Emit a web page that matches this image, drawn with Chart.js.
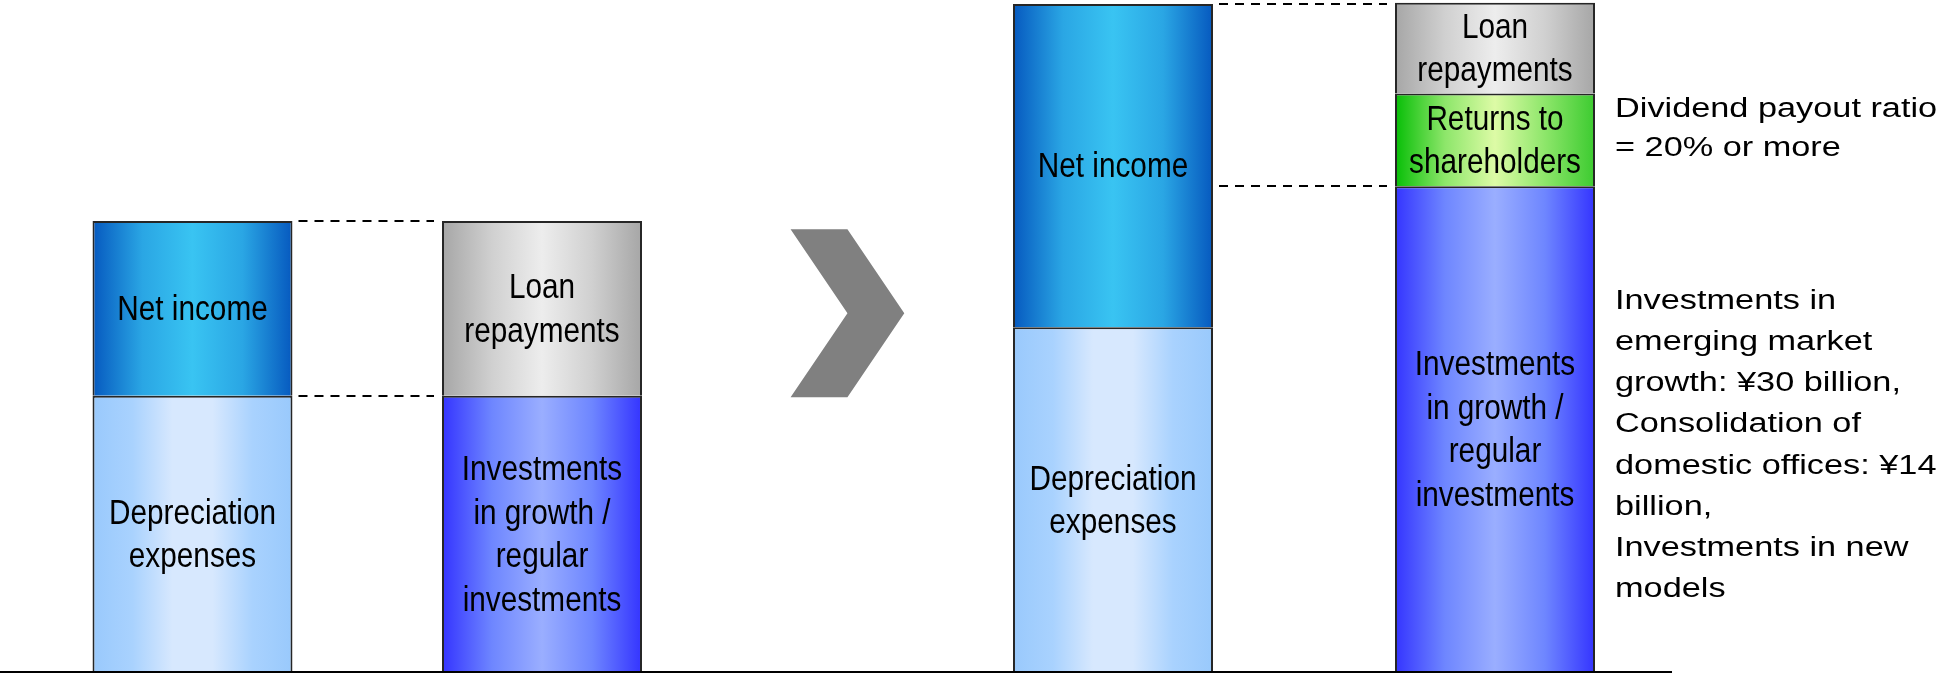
<!DOCTYPE html>
<html>
<head>
<meta charset="utf-8">
<title>Cash flow allocation</title>
<script src="https://cdn.jsdelivr.net/npm/chart.js@4.4.1/dist/chart.umd.min.js"></script>
<style>
  html, body { margin: 0; padding: 0; background: #fff; overflow: hidden; }
  #wrap { position: relative; width: 1941px; height: 673px; }
</style>
</head>
<body>
<div id="wrap"><canvas id="flows"></canvas></div>
<script>
// Cash sources (left stack) and uses (right stack), current vs. plan
const periods = ['Current', 'Plan'];
const depreciation = [41.1, 51.3];
const netIncome = [26.0, 48.1];
const growthInvestments = [41.1, 72.3];
const shareholderReturns = [null, 13.8];
const loanRepayments = [26.0, 13.5];

const dividendNote = ['Dividend payout ratio', '= 20% or more'];
const investmentNote = ['Investments in', 'emerging market', 'growth: ¥30 billion,', 'Consolidation of',
  'domestic offices: ¥14', 'billion,', 'Investments in new', 'models'];

// bar spacing inside each period group
const catPct = [0.7462, 0.8156];
const barPct = [0.5722, 0.5236];

const labelFont = '35px "Liberation Sans", Arial, sans-serif';
const noteFont = '27px "Liberation Sans", Arial, sans-serif';

const series = [
  { values: depreciation, stack: 'src', lines: ['Depreciation', 'expenses'],
    shade: ['#99C9FC', '#A9D2FE', '#D7E8FE', '#D7E8FE', '#A9D2FE', '#99C9FC'], dashed: [true, false] },
  { values: netIncome, stack: 'src', lines: ['Net income'],
    shade: ['#0659BF', '#2AA6E4', '#39C4F2', '#2AA6E4', '#0659BF'], dashed: [true, true] },
  { values: growthInvestments, stack: 'use', lines: ['Investments', 'in growth /', 'regular', 'investments'],
    shade: ['#3434FF', '#6E86FF', '#9AAEFF', '#6E86FF', '#3434FF'], dashed: [false, true],
    notes: [null, { lines: investmentNote, dy: 24, lh: 41.2 }] },
  { values: shareholderReturns, stack: 'use', lines: ['Returns to', 'shareholders'],
    shade: ['#06BE06', '#8DE66A', '#DDFBA6', '#8DE66A', '#3CCB30'], dashed: [false, false],
    notes: [null, { lines: dividendNote, dy: -3.5, lh: 38.8 }] },
  { values: loanRepayments, stack: 'use', lines: ['Loan', 'repayments'],
    shade: ['#A6A6A6', '#D0D0D0', '#EDEDED', '#D0D0D0', '#A6A6A6'], dashed: [false, false] }
];

const datasets = [];
periods.forEach((p, pi) => {
  series.forEach(s => {
    if (s.values[pi] == null) return;
    datasets.push({
      label: s.lines.join(' '),
      data: periods.map((_, j) => (j === pi ? s.values[pi] : null)),
      stack: s.stack,
      lines: s.lines,
      shade: s.shade,
      dashed: s.dashed[pi],
      note: s.notes ? s.notes[pi] : null,
      categoryPercentage: catPct[pi],
      barPercentage: barPct[pi],
      backgroundColor: s.shade[0],
      borderColor: '#262626',
      borderWidth: 2,
      clip: false
    });
  });
});

function drawLines(ctx, lines, x, y, lh, sx, align, baseline) {
  lines.forEach((t, k) => {
    ctx.save();
    ctx.translate(x, y + (k - (lines.length - 1) / 2) * lh);
    ctx.scale(sx, 1);
    ctx.textAlign = align;
    ctx.textBaseline = baseline;
    ctx.fillText(t, 0, 0);
    ctx.restore();
  });
}

function eachBar(chart, fn) {
  chart.data.datasets.forEach((ds, i) => {
    chart.getDatasetMeta(i).data.forEach((bar, j) => {
      if (ds.data[j] != null) fn(ds, bar, j);
    });
  });
}

// edges of the source / use stacks for one period
function groupEdges(chart, j) {
  let srcL = Infinity, srcR = -Infinity, useL = Infinity, useR = -Infinity;
  eachBar(chart, (ds, bar, k) => {
    if (k !== j) return;
    const l = bar.x - bar.width / 2, r = bar.x + bar.width / 2;
    if (ds.stack === 'src') { srcL = Math.min(srcL, l); srcR = Math.max(srcR, r); }
    else { useL = Math.min(useL, l); useR = Math.max(useR, r); }
  });
  return { srcL, srcR, useL, useR };
}

const shading = {
  id: 'shading',
  beforeDatasetsDraw(chart) {
    const ctx = chart.ctx;
    eachBar(chart, (ds, bar) => {
      const g = ctx.createLinearGradient(bar.x - bar.width / 2, 0, bar.x + bar.width / 2, 0);
      ds.shade.forEach((c, k) => g.addColorStop(k / (ds.shade.length - 1), c));
      bar.options.backgroundColor = g;
    });
  }
};

const decorations = {
  id: 'decorations',
  afterDatasetsDraw(chart) {
    const ctx = chart.ctx;
    const area = chart.chartArea;
    const y0 = chart.scales.y.getPixelForValue(0);
    const edges = periods.map((_, j) => groupEdges(chart, j));

    // dashed level lines between source and use stacks
    ctx.save();
    ctx.strokeStyle = '#000';
    ctx.lineWidth = 2;
    ctx.setLineDash([9, 7]);
    eachBar(chart, (ds, bar, j) => {
      if (!ds.dashed) return;
      const e = edges[j];
      const y = Math.round(bar.y);
      ctx.beginPath();
      ctx.moveTo(e.srcR + 6, y);
      ctx.lineTo(e.useL - 8, y);
      ctx.stroke();
    });
    ctx.restore();

    // chevron between the two periods
    const a = edges[0].useR, gap = edges[1].srcL - edges[0].useR;
    const h = area.bottom - area.top;
    const xa = a + 0.4005 * gap, xb = a + 0.5538 * gap, xc = a + 0.707 * gap;
    const yt = area.top + 0.341 * h, ym = area.top + 0.466 * h, yb = area.top + 0.591 * h;
    ctx.save();
    ctx.fillStyle = '#808080';
    ctx.beginPath();
    ctx.moveTo(xa, yt);
    ctx.lineTo(xb, yt);
    ctx.lineTo(xc, ym);
    ctx.lineTo(xb, yb);
    ctx.lineTo(xa, yb);
    ctx.lineTo(xb, ym);
    ctx.closePath();
    ctx.fill();
    ctx.restore();

    // baseline
    ctx.save();
    ctx.strokeStyle = '#000';
    ctx.lineWidth = 2;
    ctx.beginPath();
    ctx.moveTo(0, y0);
    ctx.lineTo(edges[1].useR + 77, y0);
    ctx.stroke();
    ctx.restore();

    // segment captions and side notes
    ctx.save();
    ctx.fillStyle = '#000';
    eachBar(chart, (ds, bar) => {
      const mid = (bar.y + bar.base) / 2;
      ctx.font = labelFont;
      drawLines(ctx, ds.lines, bar.x, mid + 2, 43.5, 0.85, 'center', 'middle');
      if (ds.note) {
        ctx.font = noteFont;
        drawLines(ctx, ds.note.lines, bar.x + bar.width / 2 + 20, mid + ds.note.dy, ds.note.lh, 1.27, 'left', 'alphabetic');
      }
    });
    ctx.restore();
  }
};

new Chart(document.getElementById('flows'), {
  type: 'bar',
  data: { labels: periods, datasets },
  options: {
    responsive: true,
    maintainAspectRatio: false,
    animation: false,
    events: [],
    layout: { padding: { left: 367.25, right: 637, top: 0, bottom: 1 } },
    plugins: { legend: { display: false }, tooltip: { enabled: false } },
    scales: {
      x: { type: 'category', offset: false, display: false },
      y: { min: 0, max: 100, stacked: true, display: false }
    }
  },
  plugins: [shading, decorations]
});
</script>
</body>
</html>
